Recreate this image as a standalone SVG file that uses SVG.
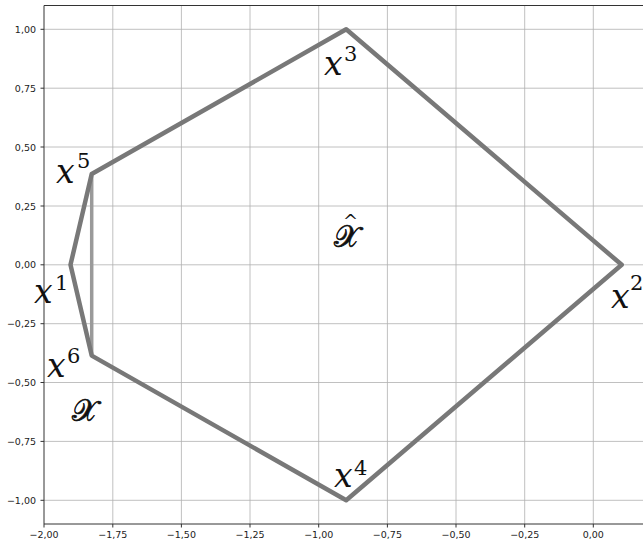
<svg xmlns="http://www.w3.org/2000/svg" width="643" height="544" viewBox="0 0 643 544">
<style>
.grid line{stroke:#b0b0b0;stroke-width:0.8}
.spine{stroke:#333;stroke-width:1;fill:none}
.tick line{stroke:#333;stroke-width:1}
.hull{fill:none;stroke:#787878;stroke-width:4.5;stroke-linejoin:round}
.inner{stroke:#9a9a9a;stroke-width:3.5}
</style>
<rect width="643" height="544" fill="#fff"/>
<g id="grid" class="grid">
<line x1="112.8" y1="5.5" x2="112.8" y2="524"/>
<line x1="181.4" y1="5.5" x2="181.4" y2="524"/>
<line x1="250" y1="5.5" x2="250" y2="524"/>
<line x1="318.7" y1="5.5" x2="318.7" y2="524"/>
<line x1="387.4" y1="5.5" x2="387.4" y2="524"/>
<line x1="456" y1="5.5" x2="456" y2="524"/>
<line x1="524.7" y1="5.5" x2="524.7" y2="524"/>
<line x1="593.3" y1="5.5" x2="593.3" y2="524"/>
<line x1="44" y1="29.3" x2="643" y2="29.3"/>
<line x1="44" y1="88.2" x2="643" y2="88.2"/>
<line x1="44" y1="147" x2="643" y2="147"/>
<line x1="44" y1="206" x2="643" y2="206"/>
<line x1="44" y1="264.8" x2="643" y2="264.8"/>
<line x1="44" y1="323.7" x2="643" y2="323.7"/>
<line x1="44" y1="382.5" x2="643" y2="382.5"/>
<line x1="44" y1="441.4" x2="643" y2="441.4"/>
<line x1="44" y1="500.3" x2="643" y2="500.3"/>
</g>
<g id="axes">
<path class="spine" d="M643,5.5 H44 V524 H643"/>
<g class="tick">
<line x1="40.5" y1="29.3" x2="44" y2="29.3"/>
<line x1="40.5" y1="88.2" x2="44" y2="88.2"/>
<line x1="40.5" y1="147" x2="44" y2="147"/>
<line x1="40.5" y1="206" x2="44" y2="206"/>
<line x1="40.5" y1="264.8" x2="44" y2="264.8"/>
<line x1="40.5" y1="323.7" x2="44" y2="323.7"/>
<line x1="40.5" y1="382.5" x2="44" y2="382.5"/>
<line x1="40.5" y1="441.4" x2="44" y2="441.4"/>
<line x1="40.5" y1="500.3" x2="44" y2="500.3"/>
<line x1="44" y1="524" x2="44" y2="527.5"/>
<line x1="112.8" y1="524" x2="112.8" y2="527.5"/>
<line x1="181.4" y1="524" x2="181.4" y2="527.5"/>
<line x1="250" y1="524" x2="250" y2="527.5"/>
<line x1="318.7" y1="524" x2="318.7" y2="527.5"/>
<line x1="387.4" y1="524" x2="387.4" y2="527.5"/>
<line x1="456" y1="524" x2="456" y2="527.5"/>
<line x1="524.7" y1="524" x2="524.7" y2="527.5"/>
<line x1="593.3" y1="524" x2="593.3" y2="527.5"/>
</g>
<g font-family="DejaVu Sans, sans-serif" font-size="9.5" fill="#222" text-anchor="end">
<text x="36" y="32.8">1,00</text>
<text x="36" y="91.7">0,75</text>
<text x="36" y="150.5">0,50</text>
<text x="36" y="209.5">0,25</text>
<text x="36" y="268.3">0,00</text>
<text x="36" y="327.2">−0,25</text>
<text x="36" y="386">−0,50</text>
<text x="36" y="444.9">−0,75</text>
<text x="36" y="503.8">−1,00</text>
</g>
<g font-family="DejaVu Sans, sans-serif" font-size="9.5" fill="#222" text-anchor="middle">
<text x="44" y="538">−2,00</text>
<text x="112.8" y="538">−1,75</text>
<text x="181.4" y="538">−1,50</text>
<text x="250" y="538">−1,25</text>
<text x="318.7" y="538">−1,00</text>
<text x="387.4" y="538">−0,75</text>
<text x="456" y="538">−0,50</text>
<text x="524.7" y="538">−0,25</text>
<text x="593.3" y="538">0,00</text>
</g>
</g>
<g id="connectors">
<line class="inner" x1="91.7" y1="174" x2="91.7" y2="355.6"/>
<polygon class="hull" points="70.5,264.8 91.7,174 346.2,29.3 621.7,264.8 346.2,500.3 91.7,355.6"/>
</g>
<g font-family="DejaVu Serif, serif" fill="#111">
<g id="x1"><text x="34" y="303" font-size="33" font-style="italic">x</text><text x="55" y="290" font-size="21">1</text></g>
<g id="x2"><text x="611" y="308" font-size="33" font-style="italic">x</text><text x="630" y="290" font-size="21">2</text></g>
<g id="x3"><text x="324" y="75" font-size="33" font-style="italic">x</text><text x="344" y="61" font-size="21">3</text></g>
<g id="x4"><text x="334" y="487" font-size="33" font-style="italic">x</text><text x="354" y="475" font-size="21">4</text></g>
<g id="x5"><text x="56" y="183" font-size="33" font-style="italic">x</text><text x="77" y="168" font-size="21">5</text></g>
<g id="x6"><text x="47" y="377" font-size="33" font-style="italic">x</text><text x="67" y="363" font-size="21">6</text></g>
</g>
<g id="X"><text x="72" y="421" font-family="DejaVu Serif, serif" font-size="30" fill="#111" stroke="#111" stroke-width="0.7">𝒳</text></g>
<g id="Xhat"><text x="334" y="247" font-family="DejaVu Serif, serif" font-size="30" fill="#111" stroke="#111" stroke-width="0.7">𝒳<tspan dx="-17" dy="-19" font-size="18" stroke-width="0">^</tspan></text></g>
</svg>
